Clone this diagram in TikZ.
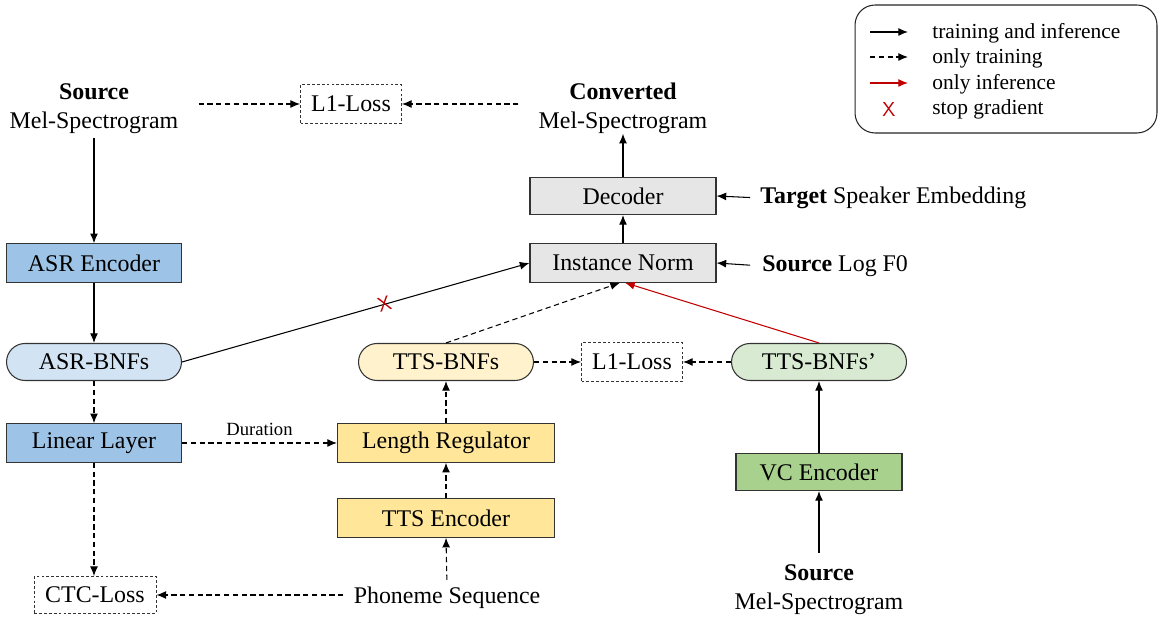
\documentclass[tikz,border=0pt]{standalone}
\usepackage{fontspec}
\setmainfont{Liberation Serif}
\usetikzlibrary{arrows.meta}
\definecolor{asrblue}{HTML}{9DC3E6}
\definecolor{bnfblue}{HTML}{D2E3F4}
\definecolor{ttsyellow}{HTML}{FFE699}
\definecolor{bnfyellow}{HTML}{FFF2CC}
\definecolor{vcgreen}{HTML}{A9D18E}
\definecolor{bnfgreen}{HTML}{D8EBD2}
\definecolor{normgray}{HTML}{E7E6E6}
\definecolor{infred}{HTML}{C00000}
\newcommand{\mainsize}{\fontsize{13.6}{16.5}\selectfont}
\newcommand{\stopmark}{\sffamily\fontsize{11.5}{13}\selectfont X}
\tikzset{
  x=0.02cm, y=-0.02cm,
  every node/.style={font=\mainsize},
  block/.style={draw=black!80, line width=0.6pt, minimum height=0.77cm, inner sep=0pt},
  pill/.style={block, rounded corners=0.37cm, minimum height=0.74cm},
  lossbox/.style={draw=black!80, line width=0.5pt, dash pattern=on 1.6pt off 1.2pt, minimum height=0.77cm, inner sep=0pt},
  plain/.style={inner sep=0pt, align=center},
  arr/.style={-{Latex[length=5.5pt,width=4.5pt]}, line width=0.6pt},
  darr/.style={arr, dash pattern=on 3pt off 2pt},
  rarr/.style={arr, draw=infred},
  legtext/.style={anchor=west, inner sep=0pt, font=\fontsize{12.2}{14}\selectfont},
  xmark/.style={text=infred, inner sep=0pt, font=\stopmark},
}
\begin{document}
\begin{tikzpicture}
\useasboundingbox (0,0) rectangle (1160,617);

% legend
\node[draw=black!85, line width=0.6pt, rounded corners=0.4cm, minimum width=6.04cm, minimum height=2.56cm] (legend) at (1006,69) {};
\coordinate (la1) at (870,32); \coordinate (lb1) at (908,32);
\coordinate (la2) at (870,57); \coordinate (lb2) at (908,57);
\coordinate (la3) at (870,83); \coordinate (lb3) at (908,83);
\draw[arr] (la1) -- (lb1);
\draw[darr] (la2) -- (lb2);
\draw[rarr] (la3) -- (lb3);
\node[xmark] (lx) at (889,109) {};
\node[legtext] (lt1) at (932,33) {training and inference};
\node[legtext] (lt2) at (932,58) {only training};
\node[legtext] (lt3) at (932,84) {only inference};
\node[legtext] (lt4) at (932,109) {stop gradient};

% left column: ASR branch
\node[plain] (src) at (94,109) {\textbf{Source}\\Mel-Spectrogram};
\node[lossbox, minimum width=2.02cm] (l1top) at (351,104) {L1-Loss};
\node[plain] (conv) at (623,108) {\textbf{Converted}\\Mel-Spectrogram};
\node[block, fill=asrblue, minimum width=3.5cm] (asrenc) at (94,263) {ASR Encoder};
\node[pill, fill=bnfblue, minimum width=3.5cm] (asrbnf) at (94,362) {ASR-BNFs};
\node[block, fill=asrblue, minimum width=3.5cm] (linear) at (94,443) {Linear Layer};
\node[lossbox, minimum width=2.44cm, minimum height=0.74cm] (ctc) at (95,595) {CTC-Loss};

% middle column: TTS branch
\node[plain] (phon) at (447,598) {Phoneme Sequence};
\node[block, fill=ttsyellow, minimum width=4.34cm] (ttsenc) at (446,518) {TTS Encoder};
\node[block, fill=ttsyellow, minimum width=4.34cm] (lenreg) at (446,443) {Length Regulator};
\node[pill, fill=bnfyellow, minimum width=3.5cm] (ttsbnf) at (446,362) {TTS-BNFs};
\node[lossbox, minimum width=2.02cm] (l1mid) at (632,362) {L1-Loss};

% right column: VC branch and decoder
\node[pill, fill=bnfgreen, minimum width=3.5cm] (vcbnf) at (819,362) {TTS-BNFs’};
\node[block, fill=vcgreen, minimum width=3.32cm, minimum height=0.74cm] (vcenc) at (819,472) {VC Encoder};
\node[plain] (src2) at (819,590) {\textbf{Source}\\Mel-Spectrogram};
\node[block, fill=normgray, minimum width=3.72cm] (inorm) at (623,263) {Instance Norm};
\node[block, fill=normgray, minimum width=3.72cm, minimum height=0.74cm] (dec) at (623,196) {Decoder};
\node[anchor=west, inner sep=0pt] (tse) at (760,198) {\textbf{Target} Speaker Embedding};
\node[anchor=west, inner sep=0pt] (lf0) at (762,266) {\textbf{Source} Log F0};

% connectors
\draw[darr, shorten <=0.4cm] (src.east |- l1top) -- (l1top.west);
\draw[darr, shorten <=0.4cm] (conv.west |- l1top) -- (l1top.east);
\draw[arr, shorten <=0.08cm] (src.south) -- (asrenc.north);
\draw[arr] (asrenc.south) -- (asrbnf.north);
\draw[darr] (asrbnf.south) -- (linear.north);
\draw[darr] (linear.south) -- (ctc.north -| linear.south);
\draw[darr, shorten <=0.2cm] (phon.west |- ctc) -- (ctc.east);
\draw[darr] (linear.east) -- node[above=0.14cm, inner sep=0pt, font=\fontsize{10.6}{12}\selectfont] (durlab) {Duration} (lenreg.west);
\draw[darr, shorten <=0.14cm] (phon.north) -- (ttsenc.south);
\draw[darr] (ttsenc.north) -- (lenreg.south);
\draw[darr] (lenreg.north) -- (ttsbnf.south);
\draw[darr] (ttsbnf.east) -- (l1mid.west);
\draw[darr] (vcbnf.west) -- (l1mid.east);
\draw[arr, shorten <=0.24cm] (src2.north) -- (vcenc.south);
\draw[arr] (vcenc.north) -- (vcbnf.south);
\draw[darr] (ttsbnf.north) -- ([xshift=-0.06cm]inorm.south);
\draw[rarr] (vcbnf.north) -- ([xshift=0.04cm]inorm.south);
\draw[arr] (asrbnf.east) -- node[pos=0.583, sloped, xmark] (stopx) {} (inorm.west);
\draw[arr] (inorm.north) -- (dec.south);
\draw[arr] (dec.north) -- (conv.south);
\draw[arr, shorten <=0.2cm] (tse.west) -- (dec.east);
\draw[arr, shorten <=0.24cm] (lf0.west) -- (inorm.east);
\end{tikzpicture}
\end{document}
